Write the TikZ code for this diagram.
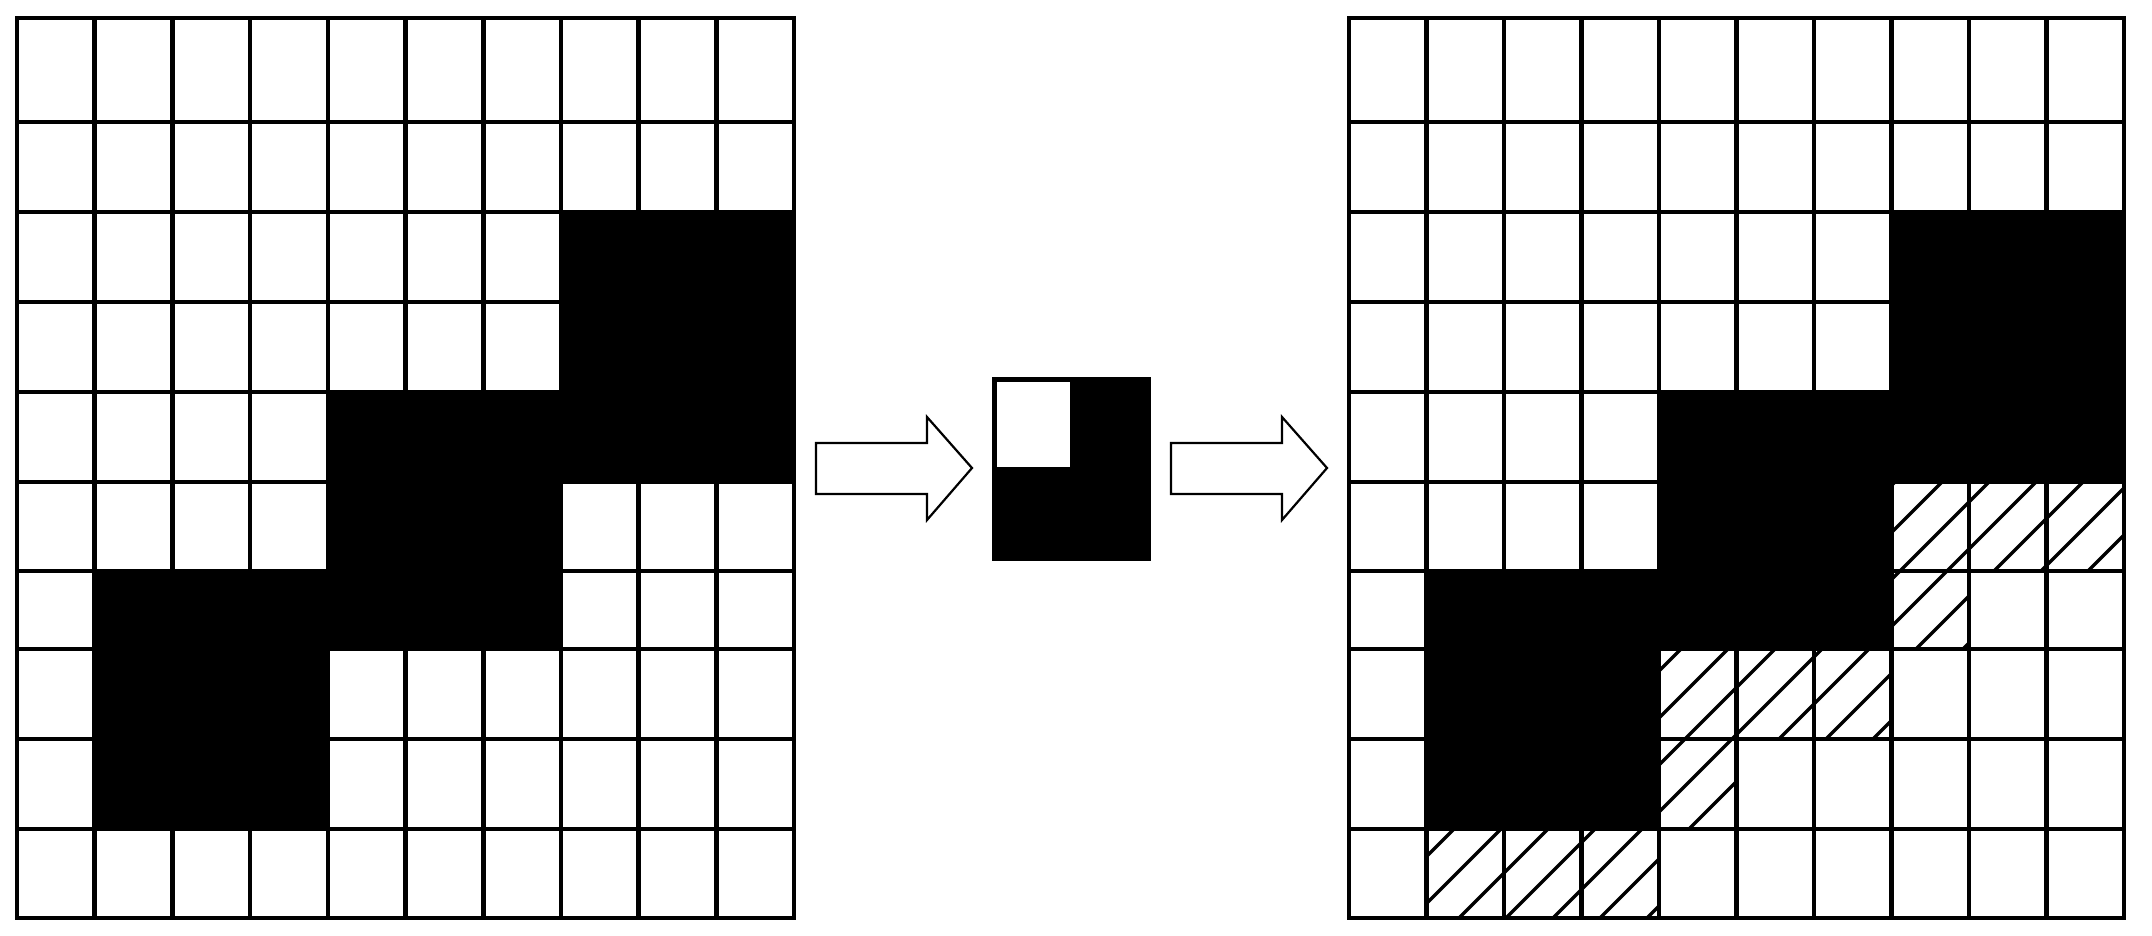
\documentclass[tikz,border=0pt]{standalone}
\begin{document}
\begin{tikzpicture}[x=0.5pt,y=-0.5pt,
  gridline/.style={line width=2.3pt, line cap=rect},
  blackcell/.style={fill=black},
  hatchline/.style={line width=1.7pt},
  blockarrow/.style={draw, line width=1.1pt, fill=white, line join=miter}]
\useasboundingbox (0,0) rectangle (2152,936);
\fill[white] (0,0) rectangle (2152,936);
% hatched cells of the result grid
\begin{scope}
  \clip \foreach \c/\ya/\yb in {7/482/571,8/482/571,9/482/571,7/571/649,4/649/739,5/649/739,6/649/739,4/739/829,1/829/918,2/829/918,3/829/918}
    { ({1349+77.5*\c},\ya) rectangle ({1349+77.5*\c+77.5},\yb) };
  \foreach \k in {28,...,65}
    \draw[hatchline] ({27+47*\k-1000},1000) -- ({27+47*\k},0);
\end{scope}
% black cells and grid lines of both grids
\foreach \gx/\gw in {17/77.7,1349/77.5} {
  \foreach \ca/\ya/\cb/\yb in {7/212/10/392, 4/392/10/482, 4/482/7/571, 1/571/7/649, 1/649/4/829}
    \fill[blackcell] ({\gx+\gw*\ca},\ya) rectangle ({\gx+\gw*\cb},\yb);
  \foreach \i in {0,...,10}
    \draw[gridline] ({\gx+\gw*\i},18) -- ({\gx+\gw*\i},918);
  \foreach \yy in {18,122,212,302,392,482,571,649,739,829,918}
    \draw[gridline] (\gx,\yy) -- ({\gx+\gw*10},\yy);
}
% structuring element
\fill[blackcell] (992,377) rectangle (1151,561);
\fill[white] (996.5,381.5) rectangle (1070,467);
% block arrows
\draw[blockarrow] (816,443) -- (927,443) -- (927,417) -- (972,468) -- (927,520) -- (927,494) -- (816,494) -- cycle;
\draw[blockarrow] (1171,443) -- (1282,443) -- (1282,417) -- (1327,468) -- (1282,520) -- (1282,494) -- (1171,494) -- cycle;
\end{tikzpicture}
\end{document}
